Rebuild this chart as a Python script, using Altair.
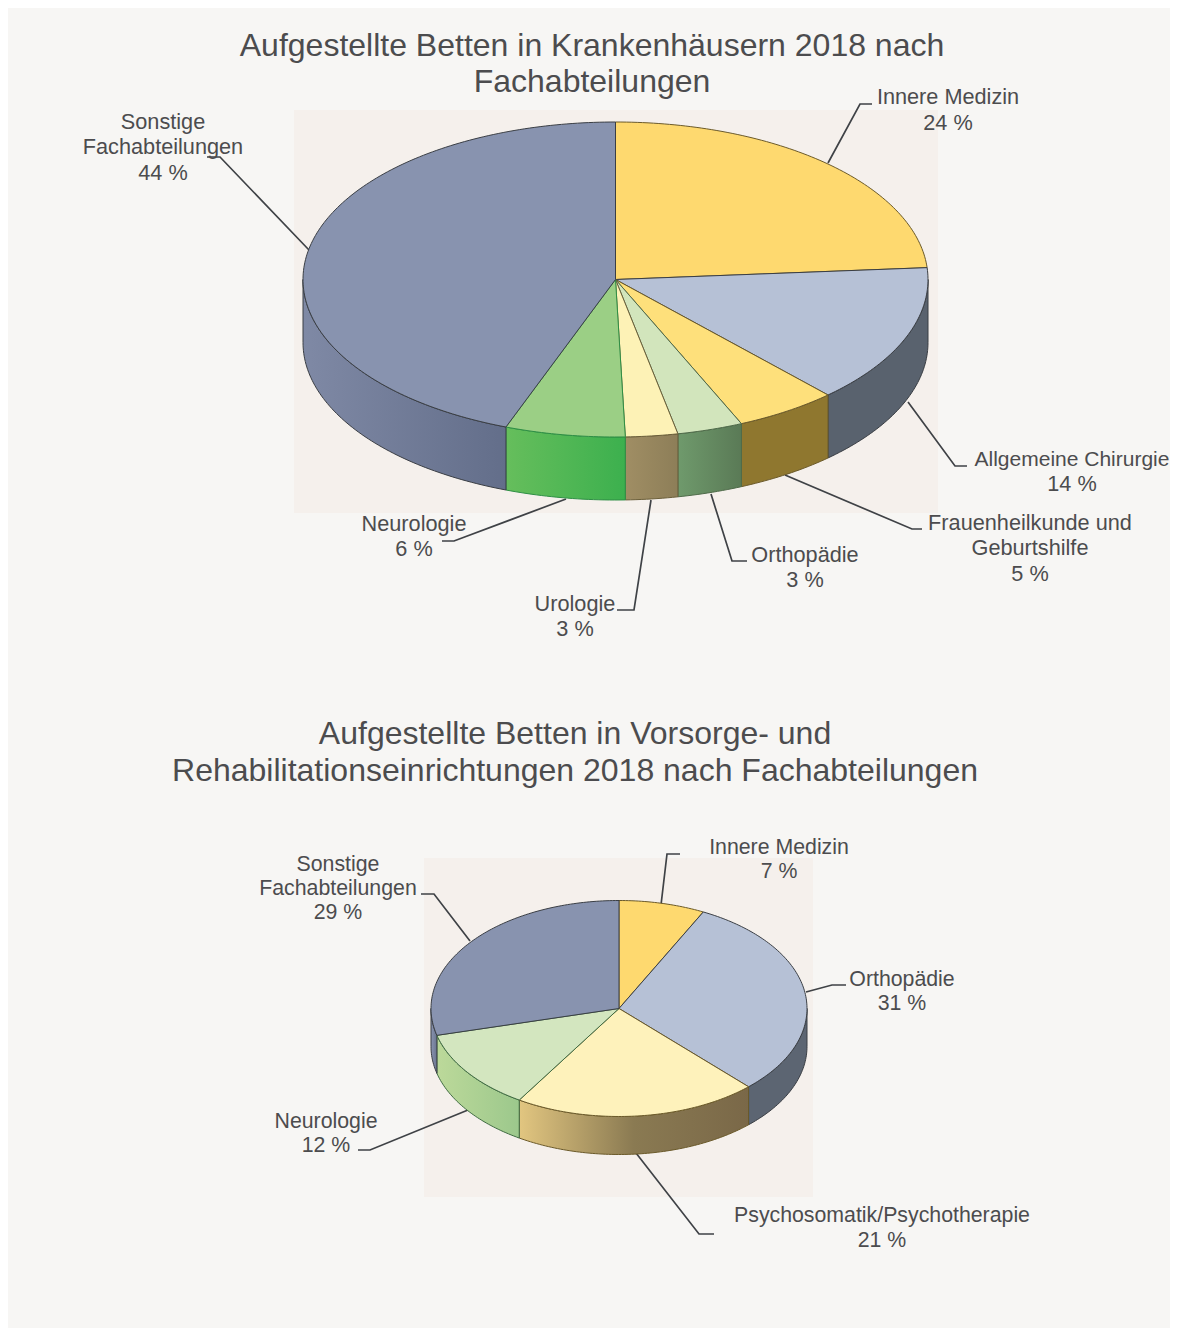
import math
import altair as alt

# ---- values ----
title_1 = ["Aufgestellte Betten in Krankenhäusern 2018 nach", "Fachabteilungen"]
title_2 = ["Aufgestellte Betten in Vorsorge- und", "Rehabilitationseinrichtungen 2018 nach Fachabteilungen"]

names_1 = ["Innere Medizin", "Allgemeine Chirurgie", "Frauenheilkunde und Geburtshilfe", "Orthopädie", "Urologie", "Neurologie", "Sonstige Fachabteilungen"]
shares_1 = [23.8, 14.3, 5.3, 3.4, 2.7, 6.2, 44.3]   # drawn slice sizes
top_1 = ["#fed96f", "#b6c1d6", "#fee07b", "#d2e5bc", "#fdf2b6", "#9bcf85", "#8893af"]
edge_1 = ["#6b5a2a", "#3a3e44", "#6b5a2a", "#4f6b4a", "#6b5f3a", "#2e8f45", "#3a3e44"]
wall_1 = [["#59626e"], ["#59626e"], ["#8f772f"], ["#6f9a6c", "#5a7a56"], ["#a08e64", "#8d7e58"], ["#66be5c", "#3cb04e"], ["#7f89a5", "#636e8a"]]

names_2 = ["Innere Medizin", "Orthopädie", "Psychosomatik/Psychotherapie", "Neurologie", "Sonstige Fachabteilungen"]
shares_2 = [7.4, 30.5, 21.0, 12.1, 29.0]
top_2 = ["#fed96f", "#b6c1d6", "#fef2bb", "#d3e6bf", "#8893af"]
edge_2 = ["#6b5a2a", "#3a3e44", "#6b5a2a", "#3f6b42", "#3a3e44"]
wall_2 = [["#59626e"], ["#5c6572"], ["#e2c680", "#8a7a52", "#7a6848"], ["#bcd99a", "#9cc88c"], ["#8a94b0", "#6a7590"]]

labels_1 = [
    ("Sonstige", 163, 129), ("Fachabteilungen", 163, 154), ("44 %", 163, 180),
    ("Innere Medizin", 948, 104), ("24 %", 948, 130),
    ("Allgemeine Chirurgie", 1072, 466, 21), ("14 %", 1072, 491),
    ("Frauenheilkunde und", 1030, 530), ("Geburtshilfe", 1030, 555), ("5 %", 1030, 581),
    ("Orthopädie", 805, 562), ("3 %", 805, 587),
    ("Urologie", 575, 611), ("3 %", 575, 636),
    ("Neurologie", 414, 531), ("6 %", 414, 556),
]
labels_2 = [
    ("Innere Medizin", 779, 854), ("7 %", 779, 878),
    ("Orthopädie", 902, 986), ("31 %", 902, 1010),
    ("Psychosomatik/Psychotherapie", 882, 1222), ("21 %", 882, 1247),
    ("Neurologie", 326, 1128), ("12 %", 326, 1152),
    ("Sonstige", 338, 871), ("Fachabteilungen", 338, 895), ("29 %", 338, 919),
]

# ---- layout ----
W, H = 1162, 1320
OX, OY = 8, 8
TEXT = "#4c4c4e"
LINE = "#3f4246"
EDGE = "#3a3e44"
FONT = "Liberation Sans"
PIE_1 = dict(cx=615.5, cy=279.5, rx=312.5, ry=157.5, depth=63)
PIE_2 = dict(cx=619, cy=1008.5, rx=188, ry=108, depth=38)
panels = [dict(x=294, x2=938, y=110, y2=513), dict(x=424, x2=813, y=858, y2=1197)]
leaders = [
    [(207, 157), (220, 157), (309, 250)],
    [(872, 104), (860, 104), (828, 163)],
    [(967, 466), (955, 466), (908, 402)],
    [(922, 529), (912, 529), (785, 475)],
    [(747, 561), (732, 561), (711, 494)],
    [(617, 610), (634, 610), (651, 500)],
    [(442, 541), (454, 541), (566, 499)],
    [(680, 854), (667, 854), (661, 905)],
    [(846, 985), (832, 985), (806, 992)],
    [(714, 1234), (699, 1234), (636, 1153)],
    [(358, 1150), (370, 1150), (468, 1110)],
    [(421, 894), (434, 894), (470, 941)],
]

xs = alt.Scale(domain=[OX, OX + W], nice=False, zero=False)
ys = alt.Scale(domain=[OY + H, OY], nice=False, zero=False)
proj = alt.Projection(type="identity", scale=1, translate=[-OX, -OY])


def pt(p, a, dz=0):
    r = math.radians(a)
    return [p["cx"] + p["rx"] * math.sin(r), p["cy"] - p["ry"] * math.cos(r) + dz]


def arc(p, a, b, dz=0):
    n = max(2, int(abs(b - a)) + 2)
    return [pt(p, a + (b - a) * i / (n - 1), dz) for i in range(n)]


def shape(ring, fill, edge=EDGE):
    ring = ring + [ring[0]]
    data = alt.Data(values=[{"type": "Feature", "properties": {},
                             "geometry": {"type": "Polygon", "coordinates": [ring]}}])
    if len(fill) > 1:
        k = len(fill) - 1
        f = alt.Gradient(gradient="linear", x1=0, y1=0, x2=1, y2=0,
                         stops=[alt.GradientStop(color=c, offset=i / k) for i, c in enumerate(fill)])
    else:
        f = fill[0]
    return alt.Chart(data).mark_geoshape(fill=f, stroke=edge, strokeWidth=1, strokeJoin="round").project(**proj.to_dict())


def pie_layers(p, shares, tops, walls, edges):
    total = sum(shares)
    walls_out, tops_out = [], []
    a = 0.0
    for s, w, e in zip(shares, walls, edges):
        b = a + s / total * 360
        lo, hi = max(a, 90), min(b, 270)
        if hi > lo:
            walls_out.append(shape(arc(p, lo, hi) + arc(p, hi, lo, p["depth"]), w, e))
        a = b
    a = 0.0
    for s, t, e in zip(shares, tops, edges):
        b = a + s / total * 360
        tops_out.append(shape([[p["cx"], p["cy"]]] + arc(p, a, b), [t], e))
        a = b
    return walls_out + tops_out


panel_layer = alt.Chart(alt.Data(values=panels)).mark_rect(color="#f5f0ec").encode(
    x=alt.X("x:Q", scale=xs, axis=None), x2="x2:Q",
    y=alt.Y("y:Q", scale=ys, axis=None), y2="y2:Q")

leader_rows = [{"x": x, "y": y, "k": i, "o": j} for i, l in enumerate(leaders) for j, (x, y) in enumerate(l)]
leader_layer = alt.Chart(alt.Data(values=leader_rows)).mark_line(color=LINE, strokeWidth=1.7).encode(
    x=alt.X("x:Q", scale=xs, axis=None), y=alt.Y("y:Q", scale=ys, axis=None),
    detail="k:N", order="o:Q")


def text_layer(rows, size):
    vals = [{"t": r[0], "x": r[1], "y": r[2], "s": r[3] if len(r) > 3 else size} for r in rows]
    return alt.Chart(alt.Data(values=vals)).mark_text(
        font=FONT, color=TEXT, align="center", baseline="alphabetic").encode(
        x=alt.X("x:Q", scale=xs, axis=None), y=alt.Y("y:Q", scale=ys, axis=None), text="t:N",
        size=alt.Size("s:Q", scale=None, legend=None))


titles = [(title_1[0], 592, 56), (title_1[1], 592, 92), (title_2[0], 575, 744), (title_2[1], 575, 781)]

chart = alt.layer(
    panel_layer,
    leader_layer,
    *pie_layers(PIE_1, shares_1, top_1, wall_1, edge_1),
    *pie_layers(PIE_2, shares_2, top_2, wall_2, edge_2),
    text_layer(titles, 32),
    text_layer(labels_1, 21.7),
    text_layer(labels_2, 21.3),
).properties(width=W, height=H, padding=0, background="#f7f6f4",
             autosize=alt.AutoSizeParams(type="none")).configure_view(stroke=None)

chart.save("out.html", embed_options={"renderer": "svg", "actions": False})
